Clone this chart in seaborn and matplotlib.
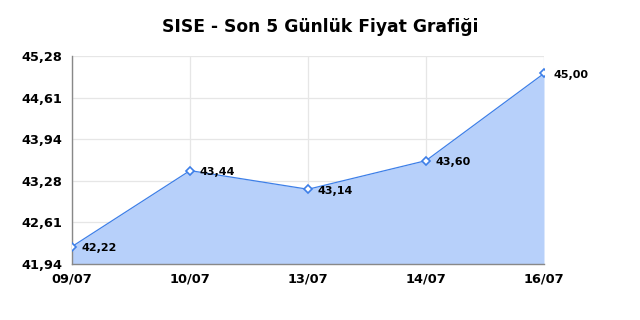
import matplotlib
matplotlib.use("Agg")
import matplotlib.pyplot as plt
import seaborn as sns
import pandas as pd

# chart data
dates = ["09/07", "10/07", "13/07", "14/07", "16/07"]
prices = [42.22, 43.44, 43.14, 43.60, 45.00]
y_ticks = [41.94, 42.61, 43.28, 43.94, 44.61, 45.28]

LINE = "#3d7fe8"
FILL = "#b7d0fa"

sns.set_style("white")
plt.rcParams["font.family"] = ["DejaVu Sans"]

df = pd.DataFrame({"date": dates, "price": prices})
df["pos"] = range(len(df))

fig = plt.figure(figsize=(6.4, 3.2), dpi=100)
ax = fig.add_axes([0.1125, 0.175, 0.7375, 0.65])

ax.fill_between(df["pos"], df["price"], y_ticks[0], color=FILL, zorder=1, linewidth=0)
sns.lineplot(data=df, x="pos", y="price", ax=ax, color=LINE, linewidth=0.9,
             marker="D", markersize=4.5, markerfacecolor="white",
             markeredgecolor=LINE, markeredgewidth=1.2, zorder=3)

for p, v in zip(df["pos"], df["price"]):
    ax.annotate(f"{v:.2f}".replace(".", ","), (p, v), xytext=(7, -1),
                textcoords="offset points", ha="left", va="center",
                fontsize=8, fontweight="bold", color="#000000", zorder=4)

ax.set_xlim(0, len(dates) - 1)
ax.set_ylim(y_ticks[0], y_ticks[-1])
ax.set_xticks(df["pos"])
ax.set_xticklabels(dates)
ax.set_yticks(y_ticks)
ax.set_yticklabels([f"{t:.2f}".replace(".", ",") for t in y_ticks])
ax.tick_params(axis="both", length=0, labelsize=9.3, labelcolor="#000000")
ax.tick_params(axis="y", pad=7)
ax.tick_params(axis="x", pad=6)
for lab in ax.get_xticklabels() + ax.get_yticklabels():
    lab.set_fontweight("bold")
ax.set_xlabel("")
ax.set_ylabel("")

ax.grid(True, color="#e6e6e6", linewidth=0.9, zorder=0)
ax.set_axisbelow(True)
for side in ("top", "right"):
    ax.spines[side].set_visible(False)
for side in ("left", "bottom"):
    ax.spines[side].set_color("#888888")
    ax.spines[side].set_linewidth(1)

fig.suptitle("SISE - Son 5 Günlük Fiyat Grafiği", x=0.5, y=0.945,
             fontsize=12.3, fontweight="bold", color="#000000")

fig.savefig("out.png", dpi=100)
